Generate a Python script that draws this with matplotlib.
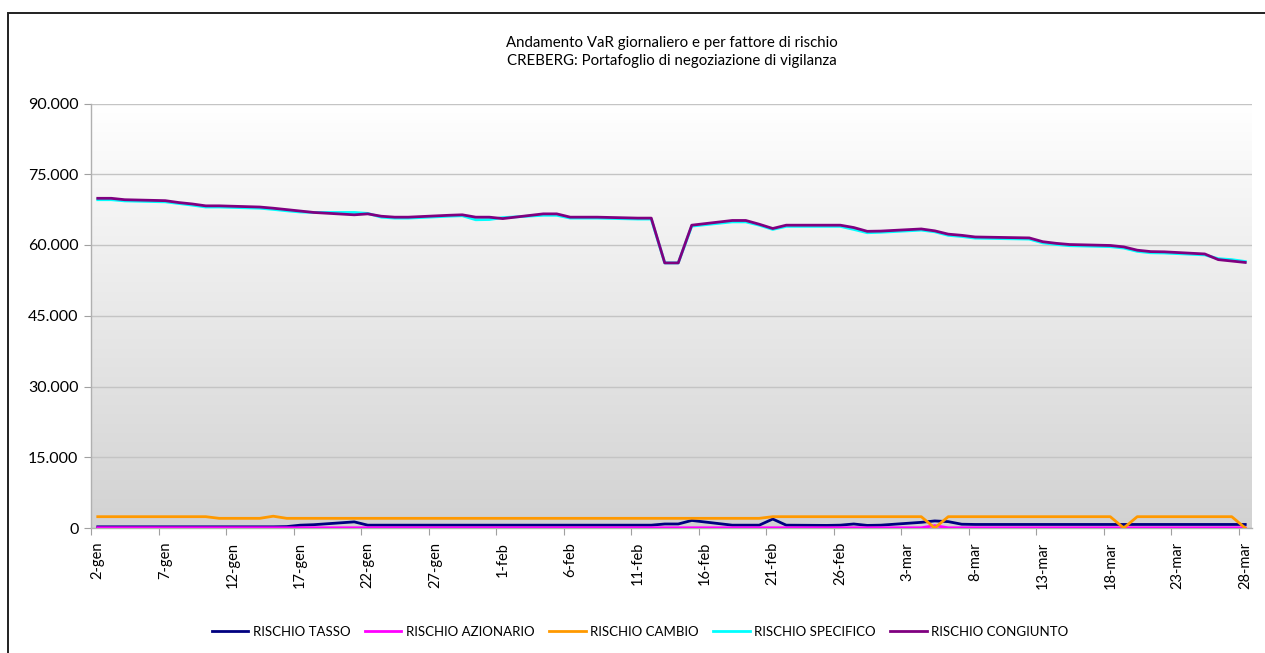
import numpy as np
import matplotlib
matplotlib.use("Agg")
import matplotlib.pyplot as plt
from matplotlib.colors import LinearSegmentedColormap
from matplotlib.patches import Rectangle

# ---- data -------------------------------------------------------------
dates = [
    "2013-01-02", "2013-01-03", "2013-01-04", "2013-01-07", "2013-01-08", "2013-01-09",
    "2013-01-10", "2013-01-11", "2013-01-14", "2013-01-15", "2013-01-16", "2013-01-17",
    "2013-01-18", "2013-01-21", "2013-01-22", "2013-01-23", "2013-01-24", "2013-01-25",
    "2013-01-28", "2013-01-29", "2013-01-30", "2013-01-31",
    "2013-02-01", "2013-02-04", "2013-02-05", "2013-02-06", "2013-02-07", "2013-02-08",
    "2013-02-11", "2013-02-12", "2013-02-13", "2013-02-14", "2013-02-15", "2013-02-18",
    "2013-02-19", "2013-02-20", "2013-02-21", "2013-02-22", "2013-02-25", "2013-02-26",
    "2013-02-27", "2013-02-28",
    "2013-03-01", "2013-03-04", "2013-03-05", "2013-03-06", "2013-03-07", "2013-03-08",
    "2013-03-11", "2013-03-12", "2013-03-13", "2013-03-14", "2013-03-15", "2013-03-18",
    "2013-03-19", "2013-03-20", "2013-03-21", "2013-03-22", "2013-03-25", "2013-03-26",
    "2013-03-27", "2013-03-28",
]

rischio_tasso = [
    250, 250, 250, 250, 250, 250, 250, 250, 250, 250, 300, 600,
    700, 1300, 600, 600, 600, 600, 600, 600, 600, 600,
    600, 600, 600, 600, 600, 600, 600, 600, 850, 850, 1600, 600,
    600, 600, 1900, 600, 550, 600, 850, 550,
    600, 1200, 1500, 1350, 800, 750, 750, 750, 750, 750, 750, 750,
    750, 750, 750, 750, 750, 750, 750, 750,
]

rischio_azionario = [
    50, 50, 50, 50, 50, 50, 50, 50, 50, 50, 50, 50,
    50, 50, 50, 50, 50, 50, 50, 50, 50, 50,
    50, 50, 50, 50, 50, 50, 50, 50, 50, 50, 50, 50,
    50, 50, 50, 50, 50, 50, 50, 50,
    50, 50, 500, 50, 50, 50, 50, 50, 50, 50, 50, 50,
    50, 50, 50, 50, 50, 50, 50, 50,
]

rischio_cambio = [
    2400, 2400, 2400, 2400, 2400, 2400, 2400, 2050, 2050, 2500, 2050, 2050,
    2050, 2050, 2050, 2050, 2050, 2050, 2050, 2050, 2050, 2050,
    2050, 2050, 2050, 2050, 2050, 2050, 2050, 2050, 2050, 2050, 2050, 2050,
    2050, 2050, 2400, 2400, 2400, 2400, 2400, 2400,
    2400, 2400, 0, 2400, 2400, 2400, 2400, 2400, 2400, 2400, 2400, 2400,
    0, 2400, 2400, 2400, 2400, 2400, 2400, 0,
]

rischio_specifico = [
    69600, 69600, 69350, 69150, 68800, 68450, 68050, 68050, 67800, 67550, 67250, 67000,
    66900, 66900, 66700, 65900, 65700, 65700, 66100, 66200, 65350, 65400,
    65800, 66300, 66300, 65700, 65700, 65700, 65500, 65500, 56200, 56200, 64000, 64900,
    64900, 64200, 63300, 63950, 63950, 63950, 63300, 62600,
    62700, 63150, 62800, 62050, 61800, 61450, 61300, 61250, 60450, 60100, 59850, 59650,
    59350, 58650, 58350, 58300, 57900, 57100, 56900, 56500,
]

rischio_congiunto = [
    69900, 69900, 69600, 69400, 69000, 68700, 68300, 68300, 68050, 67800, 67500, 67200,
    66900, 66400, 66600, 66100, 65900, 65900, 66300, 66400, 65900, 65900,
    65600, 66600, 66600, 65900, 65900, 65900, 65700, 65700, 56200, 56200, 64200, 65200,
    65200, 64400, 63500, 64200, 64200, 64200, 63700, 62900,
    62950, 63400, 63000, 62300, 62050, 61700, 61550, 61500, 60700, 60350, 60100, 59900,
    59600, 58900, 58600, 58550, 58100, 56900, 56600, 56300,
]

tick_labels = [
    "2-gen", "7-gen", "12-gen", "17-gen", "22-gen", "27-gen", "1-feb", "6-feb",
    "11-feb", "16-feb", "21-feb", "26-feb", "3-mar", "8-mar", "13-mar", "18-mar",
    "23-mar", "28-mar",
]
y_ticks = [0, 15000, 30000, 45000, 60000, 75000, 90000]
y_tick_labels = ["0", "15.000", "30.000", "45.000", "60.000", "75.000", "90.000"]

series_names = ["RISCHIO TASSO", "RISCHIO AZIONARIO", "RISCHIO CAMBIO",
                "RISCHIO SPECIFICO", "RISCHIO CONGIUNTO"]
series_colors = ["#000080", "#FF00FF", "#FF9900", "#00FFFF", "#800080"]

title = ("Andamento VaR giornaliero e per fattore di rischio\n"
         "CREBERG: Portafoglio di negoziazione di vigilanza")

# ---- layout -----------------------------------------------------------
plt.rcParams["font.family"] = ["Lato", "DejaVu Sans"]

W, H = 1265, 653
fig = plt.figure(figsize=(W / 100, H / 100), dpi=100)
fig.patch.set_facecolor("white")

left, right, top, bottom = 91, 1252, 103.5, 528
ax = fig.add_axes([left / W, (H - bottom) / H, (right - left) / W, (bottom - top) / H])

# day axis: one slot per calendar day, points sit in the middle of their slot
d = np.array(dates, dtype="datetime64[D]")
day_idx = (d - d[0]).astype(int)
x = day_idx + 0.5
n_days = 86

# gradient plot area
cmap = LinearSegmentedColormap.from_list("bg", ["#d2d2d2", "#ffffff"])
ax.imshow(np.linspace(1, 0, 256).reshape(-1, 1), cmap=cmap, vmin=0, vmax=1,
          extent=[0, n_days, 0, 90000], aspect="auto", zorder=0)

for yv in y_ticks:
    ax.axhline(yv, color="#c4c4c4", lw=1.0, zorder=1)

all_series = [rischio_tasso, rischio_azionario, rischio_cambio,
              rischio_specifico, rischio_congiunto]
for vals, name, col in zip(all_series, series_names, series_colors):
    ax.plot(x, vals, color=col, lw=2.0, label=name, zorder=3,
            solid_joinstyle="round")

ax.set_xlim(0, n_days)
ax.set_ylim(0, 90000)

# major ticks at slot boundaries, labels centred in the slot
major = np.arange(0, n_days, 5)
ax.set_xticks(major)
ax.set_xticklabels([])
ax.set_xticks(major + 0.5, minor=True)
ax.set_xticklabels(tick_labels, minor=True, rotation=90, fontsize=10.5,
                   va="top", ha="center")
ax.tick_params(axis="x", which="major", length=5, color="#a0a0a0", direction="out")
ax.tick_params(axis="x", which="minor", length=0, pad=10)

ax.set_yticks(y_ticks)
ax.set_yticklabels(y_tick_labels, fontsize=11.5)
ax.tick_params(axis="y", length=5, color="#a0a0a0", pad=4)

for s in ["top", "right"]:
    ax.spines[s].set_visible(False)
for s in ["left", "bottom"]:
    ax.spines[s].set_color("#b0b0b0")
    ax.spines[s].set_linewidth(1.0)

fig.text((left + right) / 2 / W, 1 - 52 / H, title, ha="center", va="center",
         fontsize=10.8, linespacing=1.35)

fig.legend(loc="center", bbox_to_anchor=(640 / W, 1 - 632 / H), ncol=5,
           frameon=False, fontsize=9.5, handlelength=2.8, handletextpad=0.35,
           columnspacing=1.05)

# outer chart frame
fig.patches.append(Rectangle((8 / W, -0.05), 1.2, 1 - 13 / H + 0.05,
                             transform=fig.transFigure, fill=False,
                             edgecolor="#202020", lw=1.4, zorder=10))

fig.savefig("out.png", dpi=100, facecolor="white")
